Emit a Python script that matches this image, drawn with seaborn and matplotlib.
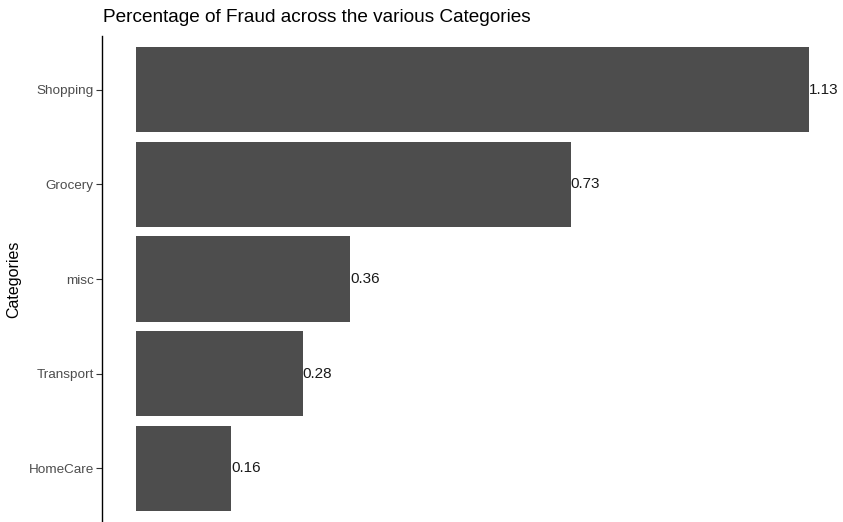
import matplotlib
matplotlib.use('Agg')
import matplotlib.pyplot as plt
import seaborn as sns
import pandas as pd

# ─── DATA ─────────────────────────────────────────────────────────────────────
categories = ["Shopping", "Grocery", "misc", "Transport", "HomeCare"]
fraud_pct = [1.13, 0.73, 0.36, 0.28, 0.16]

df = pd.DataFrame({"category": categories, "pct": fraud_pct})

# ─── STYLE ────────────────────────────────────────────────────────────────────
sns.set_style("white")
plt.rcParams['font.family'] = ['Liberation Sans', 'DejaVu Sans']

fig = plt.figure(figsize=(8.43, 5.22), dpi=100)
ax = fig.add_axes([0.121, 0.0, 0.879, 0.931])

sns.barplot(data=df, x="pct", y="category", orient="h", color="#4D4D4D",
            saturation=1, width=0.9, linewidth=0, edgecolor="none", ax=ax)

ax.bar_label(ax.containers[0], fmt="%.2f", padding=0, fontsize=11, color="#1a1a1a")

ax.set_xlim(-0.0565, 1.1865)
ax.set_ylim(4.57, -0.57)

# axes look: only left spine, no x axis
for side in ["top", "right", "bottom"]:
    ax.spines[side].set_visible(False)
ax.spines["left"].set_color("black")
ax.spines["left"].set_linewidth(1.0)
ax.set_xticks([])
ax.set_xlabel("")
ax.set_ylabel("Categories", fontsize=11.5, color="black", labelpad=5)
ax.tick_params(axis="y", left=True, length=4, width=0.8, color="#333333",
               labelsize=9.7, labelcolor="#4D4D4D", pad=2)

fig.text(0.122, 0.966, "Percentage of Fraud across the various Categories",
         fontsize=13.7, color="black", va="center", ha="left")

plt.savefig("out.png", dpi=100)
plt.close()
